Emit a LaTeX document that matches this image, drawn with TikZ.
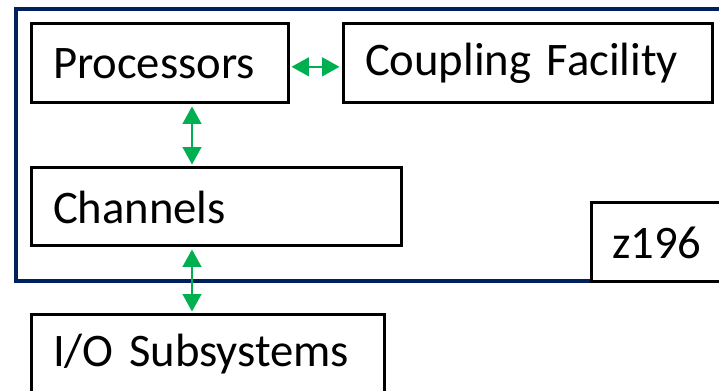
\documentclass[tikz,border=0pt]{standalone}
\usepackage{fontspec}
\setmainfont{Carlito}
\usetikzlibrary{arrows.meta}

\definecolor{framenavy}{RGB}{0,32,96}
\definecolor{linkgreen}{RGB}{0,176,80}

\tikzset{
  box/.style={draw=black, line width=2.25pt, fill=white, rectangle, align=left,
    inner xsep=16.5pt, inner ysep=0pt, minimum height=59.25pt,
    font=\fontsize{35}{42}\selectfont},
  link/.style={draw=linkgreen, line width=1.5pt,
    {Triangle[width=14pt,length=13pt]}-{Triangle[width=14pt,length=13pt]},
    shorten <=1.5pt, shorten >=1.5pt}
}

\begin{document}
\begin{tikzpicture}[x=0.75pt, y=-0.75pt]
    % page area
    \clip (0,0) rectangle (719,391);
    \fill[white] (0,0) rectangle (719,391);

    % machine frame
    \draw[framenavy, line width=3pt] (16,9) rectangle (740,281);

    % boxes
    \node[box, text width=159.75pt] (proc) at (159.5,63.5) {Processors};
    \node[box, text width=243.75pt] (cf) at (527.5,63.5) {Coupling Facility};
    \node[box, text width=244.5pt, minimum height=58.5pt] (chan) at (216,207) {Channels};
    \node[box, text width=81pt, inner xsep=15.75pt] (mach) at (666,242.5) {z196};
    \node[box, text width=231.75pt] (io) at (207.5,354.5) {I/O Subsystems};

    % links
    \coordinate (bus) at (192,0);
    \draw[link] ([yshift=-2.5pt]proc.east) -- ([yshift=-2.5pt]cf.west);
    \draw[link] (proc.south -| bus) -- (chan.north -| bus);
    \draw[link] (chan.south -| bus) -- (io.north -| bus);
\end{tikzpicture}
\end{document}
